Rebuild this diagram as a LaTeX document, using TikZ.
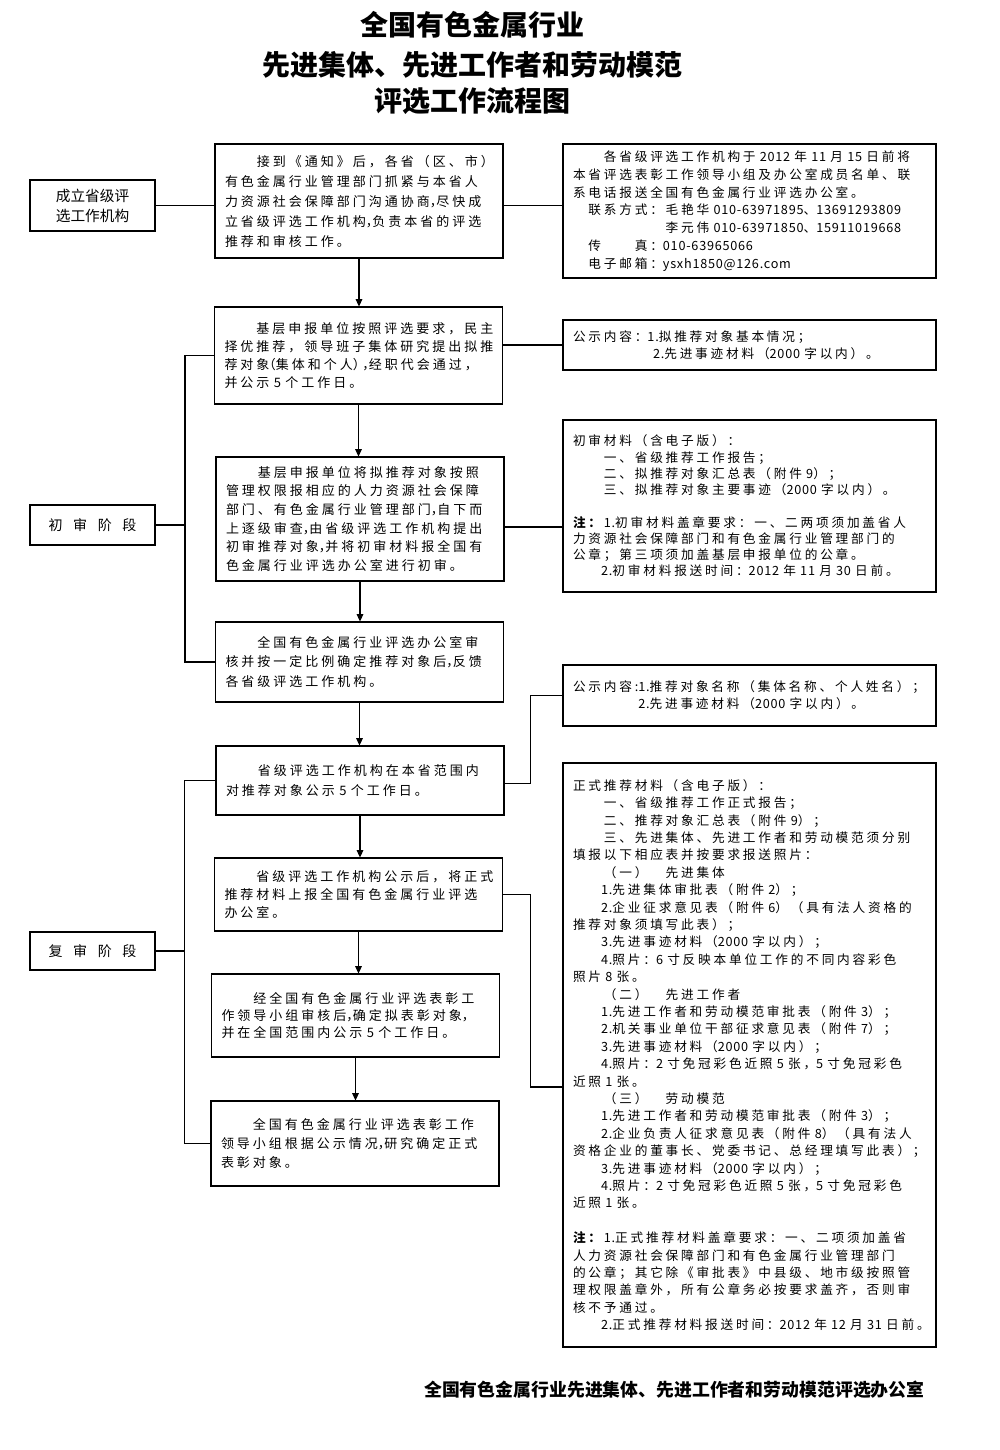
\documentclass[tikz,border=0pt]{standalone}
\usepackage{fontspec}
\setmainfont{Noto Sans CJK SC}
\newfontfamily\bx{Noto Sans CJK SC}[LetterSpace=23]
\newfontfamily\rx{Noto Sans CJK SC}[LetterSpace=22]
\newfontfamily\latf{Noto Sans CJK SC}[LetterSpace=6]
\newcommand\La[1]{{\latf #1}}
\newcommand\hp[1]{{\addfontfeature{RawFeature=+halt}#1}}
\usetikzlibrary{arrows.meta,calc}
\begin{document}
\begin{tikzpicture}[x=0.75pt,y=-0.75pt,line width=0.8pt,
  cbox/.style={draw, inner xsep=7.5pt, inner ysep=0pt, minimum width=216pt, text width=201pt, align=left, font=\bx\fontsize{9.75pt}{#1}\selectfont},
  rbox/.style={draw, inner xsep=7.5pt, inner ysep=0pt, minimum width=279.75pt, text width=264.75pt, align=left, font=\rx\fontsize{9.5pt}{#1}\selectfont},
  lbox/.style={draw, inner sep=0pt, minimum width=93.75pt, align=center, font=\fontsize{11pt}{15pt}\selectfont},
  arr/.style={-{Triangle[length=5.5pt,width=5pt]}},
  ttl/.style={font=\bfseries\fontsize{21pt}{25pt}\selectfont, inner sep=0pt}]
\fill[white] (0,0) rectangle (1000,1450);
\useasboundingbox (0,0) rectangle (1000,1450);

% titles
\node[ttl] (T1) at (472,25) {全国有色金属行业};
\node[ttl] (T2) at (472,65) {先进集体、先进工作者和劳动模范};
\node[ttl] (T3) at (472,101) {评选工作流程图};

% left boxes
\node[lbox, minimum height=38.25pt] (L1) at (92.5,205.5) {成立省级评\\选工作机构};
\node[lbox, minimum height=30pt, font=\fontsize{10.5pt}{13pt}\selectfont] (L2) at (92.5,525) {初\hspace{8pt}审\hspace{8pt}阶\hspace{8pt}段};
\node[lbox, minimum height=28.5pt, font=\fontsize{10.5pt}{13pt}\selectfont] (L3) at (92.5,951) {复\hspace{8pt}审\hspace{8pt}阶\hspace{8pt}段};

% centre boxes
\node[cbox=15pt, minimum height=85.5pt] (B1) at (359,201) {　　接到《通知》后，各省（区、市）\\有色金属行业管理部门抓紧与本省人\\力资源社会保障部门沟通协商\hp{，}尽快成\\立省级评选工作机构\hp{，}负责本省的评选\\推荐和审核工作。};
\node[cbox=13.7pt, minimum height=72.75pt] (B2) at (358.5,355.5) {　　基层申报单位按照评选要求，民主\\择优推荐，领导班子集体研究提出拟推\\荐对象\hp{（}集体和个人\hp{），}经职代会通过，\\并公示\La{~5~}个工作日。};
\node[cbox=14pt, minimum height=93pt] (B3) at (360,519) {　　基层申报单位将拟推荐对象按照\\管理权限报相应的人力资源社会保障\\部门、有色金属行业管理部门\hp{，}自下而\\上逐级审查\hp{，}由省级评选工作机构提出\\初审推荐对象\hp{，}并将初审材料报全国有\\色金属行业评选办公室进行初审。};
\node[cbox=14.6pt, minimum height=60pt] (B4) at (359.5,662) {　　全国有色金属行业评选办公室审\\核并按一定比例确定推荐对象后\hp{，}反馈\\各省级评选工作机构。};
\node[cbox=15pt, minimum height=51.75pt] (B5) at (360,780.5) {　　省级评选工作机构在本省范围内\\对推荐对象公示\La{~5~}个工作日。};
\node[cbox=13.5pt, minimum height=54.75pt] (B6) at (358.5,894.5) {　　省级评选工作机构公示后，将正式\\推荐材料上报全国有色金属行业评选\\办公室。};
\node[cbox=12.4pt, minimum height=62.25pt] (B7) at (355.5,1015.5) {　　经全国有色金属行业评选表彰工\\作领导小组审核后\hp{，}确定拟表彰对象\hp{，}\\并在全国范围内公示\La{~5~}个工作日。};
\node[cbox=13.9pt, minimum height=63.75pt] (B8) at (355,1143.5) {　　全国有色金属行业评选表彰工作\\领导小组根据公示情况\hp{，}研究确定正式\\表彰对象。};

% right boxes
\node[rbox=13.4pt, minimum height=100.5pt] (R1) at (749.5,211) {　　各省级评选工作机构于\La{~2012~}年\La{~11~}月\La{~15~}日前将\\本省评选表彰工作领导小组及办公室成员名单、联\\系电话报送全国有色金属行业评选办公室。\\　联系方式：毛艳华\La{~010-63971895}、\La{13691293809}\\　　　　　　李元伟\La{~010-63971850}、\La{15911019668}\\　传　　真：\La{010-63965066}\\　电子邮箱：\La{ysxh1850@126.com}};
\node[rbox=12.75pt, minimum height=37.5pt] (R2) at (749.5,345) {公示内容：\La{1.}拟推荐对象基本情况；\\\hspace*{60pt}\La{2.}先进事迹材料（\La{2000~}字以内）。};
\node[rbox=12.2pt, minimum height=129pt] (R3) at (749.5,506) {初审材料（含电子版）：\\　　一、省级推荐工作报告；\\　　二、拟推荐对象汇总表（附件\La{~9}）；\\　　三、拟推荐对象主要事迹（\La{2000~}字以内）。\\[12.2pt]\textbf{注：}\La{1.}初审材料盖章要求：一、二两项须加盖省人\\力资源社会保障部门和有色金属行业管理部门的\\公章；第三项须加盖基层申报单位的公章。\\　　\La{2.}初审材料报送时间：\La{2012~}年\La{~11~}月\La{~30~}日前。};
\node[rbox=12.75pt, minimum height=45.75pt] (R4) at (749.5,695.5) {公示内容:\La{1.}推荐对象名称（集体名称、个人姓名）；\\\phantom{公示内容:}\La{2.}先进事迹材料（\La{2000~}字以内）。};
\node[rbox=13.05pt, minimum height=438pt] (R5) at (749.5,1055) {正式推荐材料（含电子版）：\\　　一、省级推荐工作正式报告；\\　　二、推荐对象汇总表（附件\La{~9}）；\\　　三、先进集体、先进工作者和劳动模范须分别\\填报以下相应表并按要求报送照片：\\　　（一）　先进集体\\　　\La{1.}先进集体审批表（附件\La{~2}）；\\　　\La{2.}企业征求意见表（附件\La{~6}）（具有法人资格的\\推荐对象须填写此表）；\\　　\La{3.}先进事迹材料（\La{2000~}字以内）；\\　　\La{4.}照片：\La{6~}寸反映本单位工作的不同内容彩色\\照片\La{~8~}张。\\　　（二）　先进工作者\\　　\La{1.}先进工作者和劳动模范审批表（附件\La{~3}）；\\　　\La{2.}机关事业单位干部征求意见表（附件\La{~7}）；\\　　\La{3.}先进事迹材料（\La{2000~}字以内）；\\　　\La{4.}照片：\La{2~}寸免冠彩色近照\La{~5~}张，\La{5~}寸免冠彩色\\近照\La{~1~}张。\\　　（三）　劳动模范\\　　\La{1.}先进工作者和劳动模范审批表（附件\La{~3}）；\\　　\La{2.}企业负责人征求意见表（附件\La{~8}）（具有法人\\资格企业的董事长、党委书记、总经理填写此表）；\\　　\La{3.}先进事迹材料（\La{2000~}字以内）；\\　　\La{4.}照片：\La{2~}寸免冠彩色近照\La{~5~}张，\La{5~}寸免冠彩色\\近照\La{~1~}张。\\[13.05pt]\textbf{注：}\La{1.}正式推荐材料盖章要求：一、二项须加盖省\\人力资源社会保障部门和有色金属行业管理部门\\的公章；其它除《审批表》中县级、地市级按照管\\理权限盖章外，所有公章务必按要求盖齐，否则审\\核不予通过。\\　　\La{2.}正式推荐材料报送时间：\La{2012~}年\La{~12~}月\La{~31~}日前。};

% footer
\node[font=\bfseries\fontsize{13.4pt}{16pt}\selectfont, anchor=east, inner sep=0pt] (F) at (925,1390) {全国有色金属行业先进集体、先进工作者和劳动模范评选办公室};

% connectors
\draw (L1.east) -- (L1.east -| B1.west);
\draw (B1.east |- L1.east) -- (L1.east -| R1.west);
\draw[arr] (B1.south) -- (B1.south |- B2.north);
\draw[arr] (B2.south) -- (B2.south |- B3.north);
\draw[arr] (B3.south) -- (B3.south |- B4.north);
\draw[arr] (B4.south) -- (B4.south |- B5.north);
\draw[arr] (B5.south) -- (B5.south |- B6.north);
\draw[arr] (B6.south) -- (B6.south |- B7.north);
\draw[arr] (B7.south) -- (B7.south |- B8.north);

\draw (B2.west) -- ++(-29,0) coordinate (k1) -- (k1 |- B4.west) -- (B4.west);
\draw (L2.east) -- (L2.east -| k1);
\draw (B5.west) -- ++(-31,0) coordinate (k4) -- (k4 |- B8.west) -- (B8.west);
\draw (L3.east) -- (L3.east -| k4);

\draw (R2.west) -- (R2.west -| B2.east);
\draw ($(B3.east)+(0,8)$) coordinate (k5) -- (k5 -| R3.west);
\draw ($(B5.east)+(0,3)$) coordinate (k6) -- ++(26,0) coordinate (k2) |- (R4.west);
\draw (B6.east) -- ++(27,0) coordinate (k3) |- (R5.west |- 0,1087);
\end{tikzpicture}
\end{document}
